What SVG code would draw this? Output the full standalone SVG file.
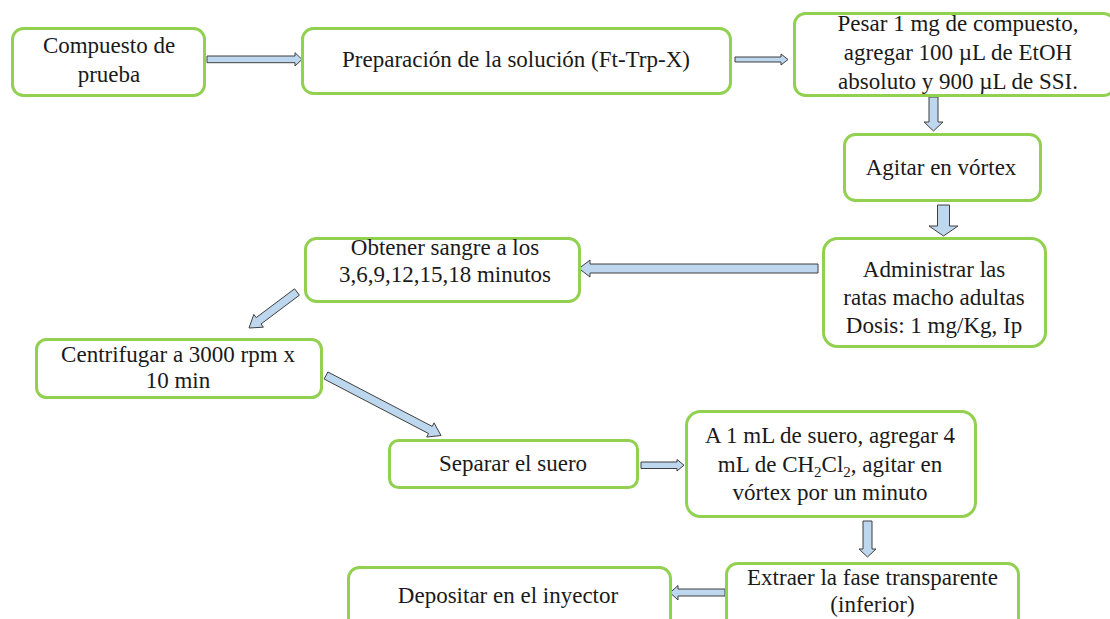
<svg xmlns="http://www.w3.org/2000/svg" width="1110" height="619" viewBox="0 0 1110 619">
<style>
.box{fill:#ffffff;stroke:#92D050;stroke-width:3}
.arr{fill:#BDD7EE;stroke:#3F3F3F;stroke-width:1;stroke-linejoin:miter}
text{font-family:"Liberation Serif","Times New Roman",serif;font-size:23px;fill:#1a1a1a;text-anchor:middle}
.sub{font-size:15px}
</style>
<rect width="1110" height="619" fill="#ffffff"/>
<g id="connectors">
<polygon class="arr" points="207,56 295,56 295,52.7 302,59.4 295,66 295,62.7 207,62.7"/>
<polygon class="arr" points="735,57 781,57 781,54 788,59.5 781,65 781,62 735,62"/>
<polygon class="arr" points="929,97 938,97 938,122 943,122 933.5,131 924,122 929,122"/>
<polygon class="arr" points="937.5,205 949.5,205 949.5,226 958,226 943.5,236 929,226 937.5,226"/>
<polygon class="arr" points="818,264 590,264 590,260 579,268.5 590,277 590,273 818,273"/>
<polygon class="arr" points="299.4,295.2 261,324 263.4,327.2 249,328 253.8,314.4 256.2,317.6 294.6,288.8"/>
<polygon class="arr" points="324.15,379.05 428.51,433.5 426.66,437.04 441,435.5 434.06,422.86 432.21,426.4 327.85,371.95"/>
<polygon class="arr" points="641,462 677,462 677,459.5 684,465.2 677,471 677,468.5 641,468.5"/>
<polygon class="arr" points="863,521 872,521 872,549 876,549 867.5,557 859,549 863,549"/>
<polygon class="arr" points="725,589 678,589 678,585.5 670,592.7 678,600 678,596 725,596"/>
</g>
<g id="n1">
<rect class="box" x="12.5" y="28.5" width="192" height="67" rx="11"/>
<text x="109" y="53">Compuesto de</text>
<text x="109" y="82">prueba</text>
</g>
<g id="n2">
<rect class="box" x="302.5" y="28.5" width="428" height="65" rx="11"/>
<text x="516" y="67">Preparación de la solución (Ft-Trp-X)</text>
</g>
<g id="n3">
<rect class="box" x="794.5" y="13.5" width="320" height="82" rx="11"/>
<text x="958" y="31">Pesar 1 mg de compuesto,</text>
<text x="958" y="60">agregar 100 µL de EtOH</text>
<text x="958" y="89">absoluto y 900 µL de SSI.</text>
</g>
<g id="n4">
<rect class="box" x="844.5" y="134.5" width="196" height="66" rx="11"/>
<text x="941" y="175">Agitar en vórtex</text>
</g>
<g id="n5">
<rect class="box" x="823.5" y="238.5" width="222" height="108" rx="14"/>
<text x="934" y="277">Administrar las</text>
<text x="934" y="305">ratas macho adultas</text>
<text x="934" y="333">Dosis: 1 mg/Kg, Ip</text>
</g>
<g id="n6">
<rect class="box" x="305.5" y="238.5" width="274" height="63" rx="11"/>
<text x="445" y="255">Obtener sangre a los</text>
<text x="445" y="282">3,6,9,12,15,18 minutos</text>
</g>
<g id="n7">
<rect class="box" x="36.5" y="339.5" width="285" height="58" rx="10"/>
<text x="178" y="362">Centrifugar a 3000 rpm x</text>
<text x="178" y="388">10 min</text>
</g>
<g id="n8">
<rect class="box" x="389.5" y="440.5" width="248" height="47" rx="9"/>
<text x="513" y="471">Separar el suero</text>
</g>
<g id="n9">
<rect class="box" x="686.5" y="411.5" width="289" height="105" rx="14"/>
<text x="830" y="443">A 1 mL de suero, agregar 4</text>
<text x="830" y="472">mL de CH<tspan class="sub" dy="5">2</tspan><tspan dy="-5">Cl</tspan><tspan class="sub" dy="5">2</tspan><tspan dy="-5">, agitar en</tspan></text>
<text x="830" y="500">vórtex por un minuto</text>
</g>
<g id="n10">
<rect class="box" x="348.5" y="567.5" width="322" height="70" rx="11"/>
<text x="508" y="603">Depositar en el inyector</text>
</g>
<g id="n11">
<rect class="box" x="726.5" y="563.5" width="292" height="70" rx="11"/>
<text x="872.5" y="585">Extraer la fase transparente</text>
<text x="872.5" y="612">(inferior)</text>
</g>
</svg>
